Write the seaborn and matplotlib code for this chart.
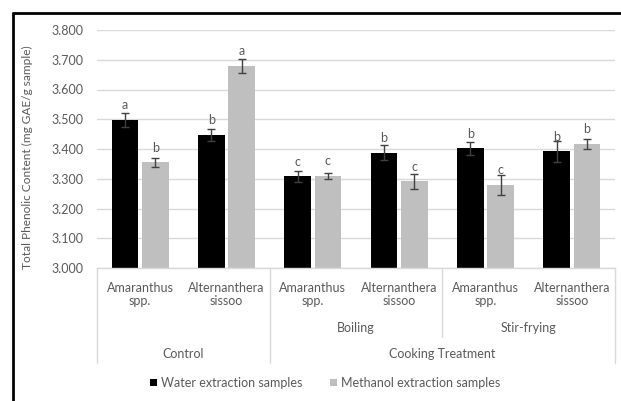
import matplotlib
matplotlib.use("Agg")
import matplotlib.pyplot as plt
import matplotlib.transforms as mtransforms
from matplotlib.lines import Line2D
import seaborn as sns
import pandas as pd

treatments = ["Control", "Control", "Boiling", "Boiling", "Stir-frying", "Stir-frying"]
species = ["Amaranthus\nspp.", "Alternanthera\nsissoo"] * 3
water = [3.498, 3.447, 3.308, 3.388, 3.402, 3.392]
water_err = [0.024, 0.019, 0.018, 0.024, 0.022, 0.035]
methanol = [3.355, 3.679, 3.310, 3.292, 3.279, 3.417]
methanol_err = [0.016, 0.022, 0.010, 0.025, 0.034, 0.017]
water_letters = ["a", "b", "c", "b", "b", "b"]
methanol_letters = ["b", "a", "c", "c", "c", "b"]
series_names = ["Water extraction samples", "Methanol extraction samples"]
y_ticks = [3.0, 3.1, 3.2, 3.3, 3.4, 3.5, 3.6, 3.7, 3.8]

keys = [f"{t}|{s}" for t, s in zip(treatments, species)]
df = pd.DataFrame({
    "key": keys * 2,
    "value": water + methanol,
    "series": [series_names[0]] * 6 + [series_names[1]] * 6,
})

sns.set_theme(style="white")
plt.rcParams["font.family"] = ["Lato", "DejaVu Sans"]
TXT = "#595959"
FS = 9

fig = plt.figure(figsize=(6.21, 4.01), dpi=100)
ax = fig.add_axes([97 / 621, 1 - 268 / 401, 518 / 621, 238 / 401])

sns.barplot(data=df, x="key", y="value", hue="series", order=keys,
            hue_order=series_names, palette=["#000000", "#BFBFBF"],
            width=0.7, gap=0.12, errorbar=None, ax=ax, legend=True,
            linewidth=0)

for cont, vs, es, ls in zip(ax.containers, [water, methanol], [water_err, methanol_err],
                            [water_letters, methanol_letters]):
    xs = [p.get_x() + p.get_width() / 2 for p in cont.patches]
    ax.errorbar(xs, vs, yerr=es, fmt="none", ecolor="#404040", elinewidth=1,
                capsize=3, capthick=1, zorder=5)
    for x, v, l in zip(xs, vs, ls):
        ax.annotate(l, (x, v), xytext=(0, 10.5), textcoords="offset points",
                    ha="center", va="center", fontsize=FS, color=TXT)

ax.set_ylim(3.0, 3.8)
ax.set_xlim(-0.5, 5.5)
ax.set_yticks(y_ticks)
ax.set_yticklabels([f"{t:.3f}" for t in y_ticks], color=TXT, fontsize=FS)
ax.tick_params(axis="y", length=0, pad=10)
ax.yaxis.grid(True, color="#D9D9D9", linewidth=1)
ax.set_axisbelow(True)
for s in ["top", "right", "left"]:
    ax.spines[s].set_visible(False)
ax.spines["bottom"].set_color("#D9D9D9")
ax.spines["bottom"].set_linewidth(1)
ax.set_xticks([])
ax.set_xlabel("")
ax.set_ylabel("Total Phenolic Content (mg GAE/g sample)", color=TXT, fontsize=8.6)
ax.yaxis.set_label_coords(-0.1236, 0.466)

trans = mtransforms.blended_transform_factory(ax.transData, ax.transAxes)
for i, s in enumerate(species):
    ax.text(i, -0.111, s, transform=trans, ha="center", va="center",
            fontsize=FS, color=TXT, linespacing=1.15)
groups = []
for i, t in enumerate(treatments):
    if not groups or groups[-1][0] != t:
        groups.append([t, i, i])
    else:
        groups[-1][2] = i
for t, a, b in groups:
    y = -0.361 if t == "Control" else -0.252
    ax.text((a + b) / 2, y, t, transform=trans, ha="center", va="center",
            fontsize=FS, color=TXT)
ax.text(3.5, -0.361, "Cooking Treatment", transform=trans, ha="center",
        va="center", fontsize=FS, color=TXT)
for x, y0 in [(-0.5, -0.399), (1.5, -0.399), (3.5, -0.29), (5.5, -0.399)]:
    ax.plot([x, x], [0, y0], transform=trans, color="#D9D9D9", lw=1, clip_on=False)

handles, labels = ax.get_legend_handles_labels()
ax.get_legend().remove()
fig.legend(handles, labels, loc="center", bbox_to_anchor=(0.524, 1 - 383 / 401),
           ncol=2, frameon=False, fontsize=FS, handlelength=0.55, handleheight=0.55,
           handletextpad=0.35, columnspacing=2.2, labelcolor=TXT)

fig.add_artist(Line2D([13 / 621, 13 / 621], [0, 1 - 13 / 401], color="black", lw=2,
                      transform=fig.transFigure))
fig.add_artist(Line2D([13 / 621, 1], [1 - 13 / 401, 1 - 13 / 401], color="black", lw=2,
                      transform=fig.transFigure))

fig.savefig("out.png", dpi=100)
